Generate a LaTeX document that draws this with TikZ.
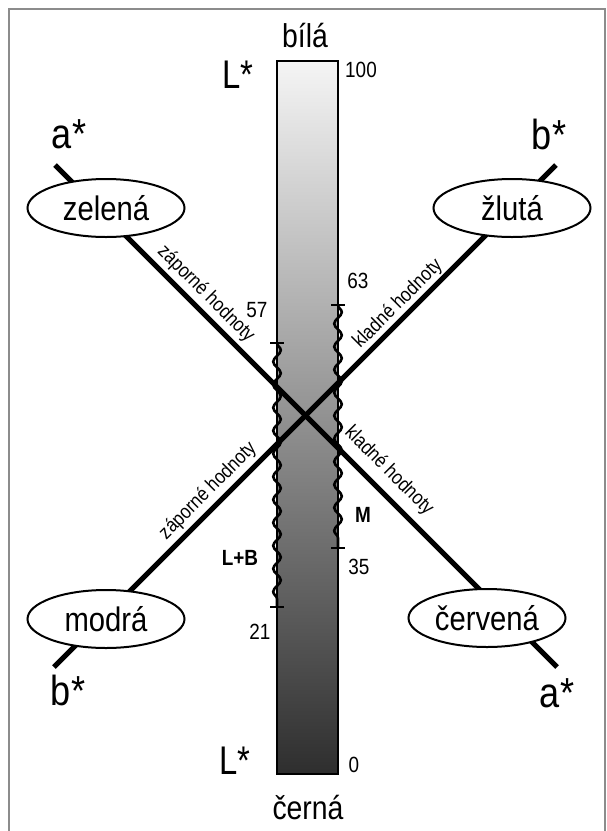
\documentclass[tikz,border=0pt]{standalone}
\usepackage{fontspec}
\setmainfont{Liberation Sans}
\newfontfamily\nsans[FakeStretch=0.86]{Liberation Sans}
\newfontfamily\nnsans[FakeStretch=0.82]{Liberation Sans}
\usetikzlibrary{shapes.geometric,decorations.pathmorphing}
\begin{document}
\begin{tikzpicture}[x=1pt,y=-1pt,
  axisline/.style={line width=5pt},
  colornode/.style={ellipse, draw, line width=2pt, fill=white, minimum width=157pt, minimum height=58pt, inner sep=0pt, font=\nsans\fontsize{34}{34}\selectfont},
  bigstar/.style={font=\nsans\fontsize{42}{42}\selectfont, inner sep=0pt},
  lstar/.style={font=\nnsans\fontsize{40}{40}\selectfont, inner sep=0pt},
  endlabel/.style={font=\nsans\fontsize{33}{33}\selectfont, inner sep=0pt},
  numlabel/.style={font=\nsans\fontsize{22}{22}\selectfont, inner sep=0pt},
  boldlabel/.style={font=\nsans\fontsize{22}{22}\selectfont\bfseries, inner sep=0pt},
  slopelabel/.style={font=\nsans\fontsize{20}{20}\selectfont, inner sep=0pt},
  wave/.style={line width=2.6pt, decorate, decoration={snake, segment length=23pt, amplitude=3.8pt}},
  tick/.style={line width=2.5pt}
]
\useasboundingbox (0,0) rectangle (607,831);
\draw[black!45, line width=2pt] (9,831) -- (9,9) -- (605,9) -- (605,831);

% lightness bar
\node[draw, line width=1.5pt, minimum width=61pt, minimum height=713pt, inner sep=0pt,
      top color=black!4, middle color=black!50, bottom color=black!82] (bar) at (307.5,417.5) {};

% axes
\coordinate (aT) at (55,165);
\coordinate (aB) at (557,667);
\coordinate (bT) at (556,165);
\coordinate (bB) at (54,667);
\draw[axisline] (aT) -- (aB);
\draw[axisline] (bT) -- (bB);

% colour ellipses
\node[colornode] (zel) at (106,208) {zelená};
\node[colornode] (zlu) at (512,208) {žlutá};
\node[colornode] (mod) at (106,619) {modrá};
\node[colornode] (cer) at (487,618) {červená};

% axis end labels
\node[bigstar] (aTl) at (69,134) {a*};
\node[bigstar] (bTl) at (549,134) {b*};
\node[bigstar] (bBl) at (68,690) {b*};
\node[bigstar] (aBl) at (557,693) {a*};

% L axis labels
\node[endlabel] (white) at (305,36) {bílá};
\node[endlabel] (black) at (308,808) {černá};
\node[lstar] (LT) at (238,75) {L*};
\node[lstar] (LB) at (235,761) {L*};
\node[numlabel] (n100) at (361,70) {100};
\node[numlabel] (n0) at (354,765) {0};

% slope labels
\node[slopelabel, rotate=-45] (ul) at (206,294) {záporné hodnoty};
\node[slopelabel, rotate=45] (ur) at (398,304) {kladné hodnoty};
\node[slopelabel, rotate=45] (ll) at (208,491) {záporné hodnoty};
\node[slopelabel, rotate=-45] (lr) at (389,471) {kladné hodnoty};

% ranges
\coordinate (LBtop) at (277,343);
\coordinate (LBbot) at (277,607);
\coordinate (Mtop) at (338,305);
\coordinate (Mbot) at (338,548);
\draw[wave] (LBtop) -- (LBbot);
\draw[wave] (Mtop) -- (Mbot);
\draw[tick] ([xshift=-7pt]LBtop) -- ([xshift=7pt]LBtop);
\draw[tick] ([xshift=-7pt]LBbot) -- ([xshift=7pt]LBbot);
\draw[tick] ([xshift=-7pt]Mtop) -- ([xshift=7pt]Mtop);
\draw[tick] ([xshift=-7pt]Mbot) -- ([xshift=7pt]Mbot);

\node[numlabel] (n57) at (257,310) {57};
\node[numlabel] (n21) at (260,632) {21};
\node[numlabel] (n63) at (358,281) {63};
\node[numlabel] (n35) at (359,567) {35};
\node[boldlabel] (lm) at (363,515) {M};
\node[boldlabel] (llb) at (240,558) {L+B};
\end{tikzpicture}
\end{document}
